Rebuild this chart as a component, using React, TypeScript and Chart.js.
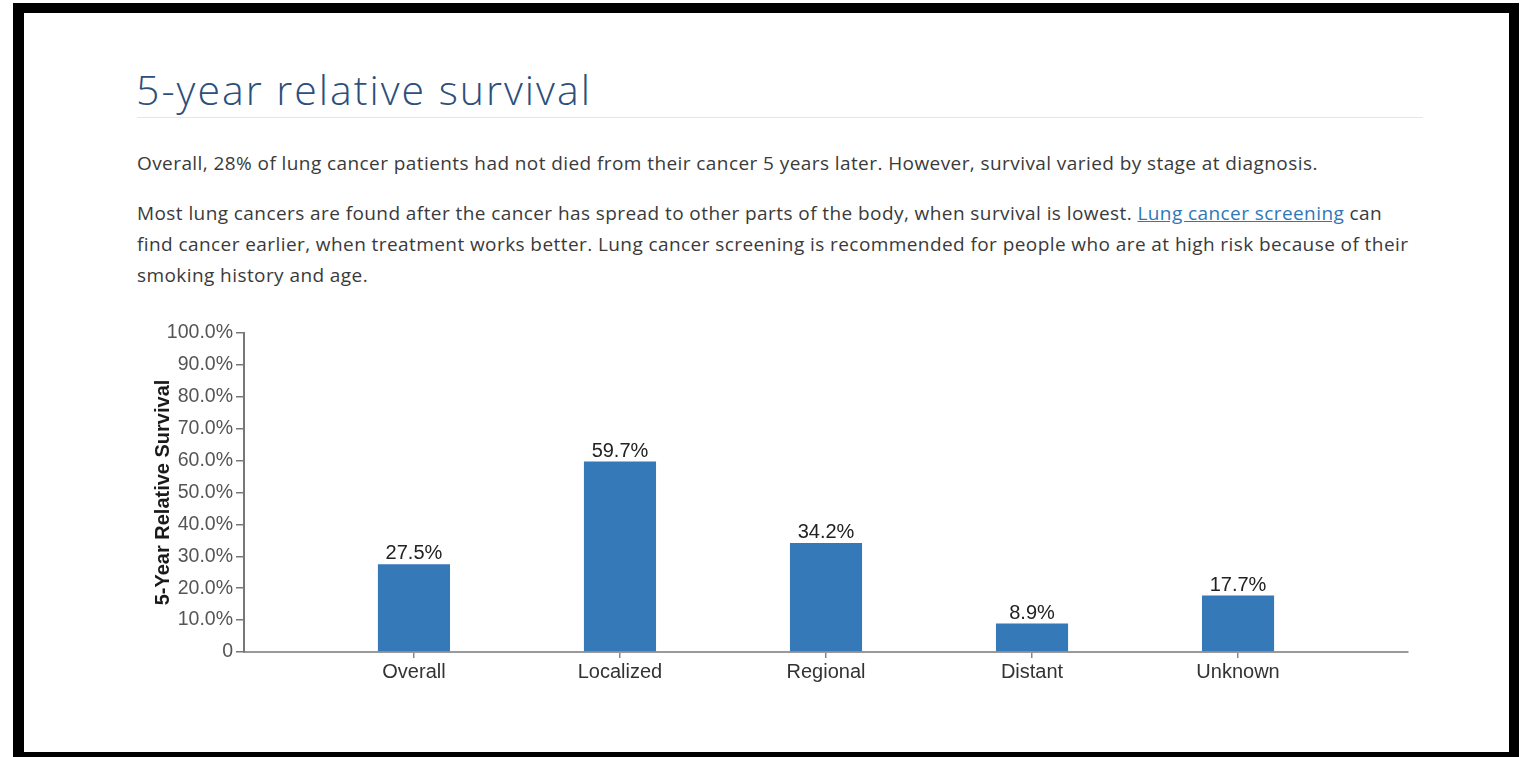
import React, { useEffect, useRef } from 'react';
import { Chart, registerables } from 'chart.js';

Chart.register(...registerables);

const categories = ['Overall', 'Localized', 'Regional', 'Distant', 'Unknown'];
const survival = [27.5, 59.7, 34.2, 8.9, 17.7];
const valueLabels = ['27.5%', '59.7%', '34.2%', '8.9%', '17.7%'];
const yTickValues = [0, 10, 20, 30, 40, 50, 60, 70, 80, 90, 100];
const yTickLabels = ['0', '10.0%', '20.0%', '30.0%', '40.0%', '50.0%', '60.0%', '70.0%', '80.0%', '90.0%', '100.0%'];

const CHART_FONT = '"Liberation Sans", Arial, Helvetica, sans-serif';

const valueLabelPlugin = {
  id: 'valueLabels',
  afterDatasetsDraw(chart: any) {
    const ctx = chart.ctx;
    const meta = chart.getDatasetMeta(0);
    ctx.save();
    ctx.font = `20px ${CHART_FONT}`;
    ctx.fillStyle = '#222';
    ctx.textAlign = 'center';
    ctx.textBaseline = 'alphabetic';
    meta.data.forEach((bar: any, i: number) => {
      ctx.fillText(valueLabels[i], bar.x, bar.y - 5);
    });
    ctx.restore();
  },
};

function SurvivalChart() {
  const ref = useRef<HTMLCanvasElement>(null);
  useEffect(() => {
    const chart = new Chart(ref.current as HTMLCanvasElement, {
      type: 'bar',
      data: {
        datasets: [
          {
            data: survival.map((v, i) => ({ x: i, y: v })),
            backgroundColor: '#3579b8',
            borderWidth: 0,
            categoryPercentage: 1,
            barPercentage: 0.35,
          },
        ],
      },
      options: {
        animation: false,
        responsive: false,
        layout: { padding: { top: 23, right: 22, left: 0, bottom: 0 } },
        plugins: {
          legend: { display: false },
          tooltip: { enabled: false },
        },
        scales: {
          x: {
            type: 'linear',
            offset: false,
            min: -0.825,
            max: 4.825,
            afterBuildTicks: (scale: any) => {
              scale.ticks = categories.map((_, i) => ({ value: i }));
            },
            afterFit: (scale: any) => {
              scale.height = 58;
            },
            ticks: {
              callback: (v: any) => categories[v] ?? '',
              font: { size: 20, family: CHART_FONT },
              color: '#333',
              padding: 2,
              maxRotation: 0,
              autoSkip: false,
            },
            grid: {
              offset: false,
              drawOnChartArea: false,
              drawTicks: true,
              tickLength: 6,
              color: '#888',
              lineWidth: 1.5,
            },
            border: { display: true, color: '#999', width: 2 },
          },
          y: {
            min: 0,
            max: 100,
            afterBuildTicks: (scale: any) => {
              scale.ticks = yTickValues.map((v) => ({ value: v }));
            },
            afterFit: (scale: any) => {
              scale.width = 124;
            },
            ticks: {
              callback: (v: any) => yTickLabels[yTickValues.indexOf(v)] ?? '',
              font: { size: 19.5, family: CHART_FONT },
              color: '#555',
              padding: 3,
              autoSkip: false,
            },
            grid: {
              drawOnChartArea: false,
              drawTicks: true,
              tickLength: 8,
              color: '#777',
              lineWidth: 1.5,
            },
            border: { display: true, color: '#777', width: 2 },
            title: {
              display: true,
              text: '5-Year Relative Survival',
              font: { size: 20, weight: 'bold', family: CHART_FONT },
              color: '#1a1a1a',
              padding: { top: 31, bottom: 0 },
            },
          },
        },
      },
      plugins: [valueLabelPlugin],
    } as any);
    return () => chart.destroy();
  }, []);
  return (
    <canvas
      ref={ref}
      width={1310}
      height={400}
      style={{ position: 'absolute', left: 120, top: 310, width: 1310, height: 400 }}
    />
  );
}

const bodyText: React.CSSProperties = {
  position: 'absolute',
  left: 137,
  fontFamily: '"Open Sans", "Noto Sans", sans-serif',
  fontSize: 19,
  letterSpacing: '0.42px',
  lineHeight: '31px',
  color: '#3a3a3a',
  whiteSpace: 'nowrap',
};

export default function App() {
  return (
    <div
      style={{
        position: 'absolute',
        left: 0,
        top: 0,
        width: 1522,
        height: 757,
        background: '#fff',
        overflow: 'hidden',
      }}
    >
      <div
        style={{
          position: 'absolute',
          left: 13,
          top: 3,
          width: 1506,
          height: 759,
          boxSizing: 'border-box',
          borderStyle: 'solid',
          borderColor: '#000',
          borderWidth: '10px 10px 10px 11px',
        }}
      />
      <div
        style={{
          position: 'absolute',
          left: 136,
          top: 69,
          fontFamily: '"Open Sans", Lato, sans-serif',
          fontWeight: 300,
          fontSize: 41,
          letterSpacing: '2px',
          lineHeight: '40px',
          color: '#2c4f7c',
          whiteSpace: 'nowrap',
        }}
      >
        5-year relative survival
      </div>
      <div
        style={{
          position: 'absolute',
          left: 137,
          top: 117,
          width: 1286,
          height: 1,
          background: '#e6e6e6',
        }}
      />
      <div style={{ ...bodyText, top: 148 }}>
        Overall, 28% of lung cancer patients had not died from their cancer 5 years later. However, survival varied by stage at diagnosis.
      </div>
      <div style={{ ...bodyText, top: 198 }}>
        Most lung cancers are found after the cancer has spread to other parts of the body, when survival is lowest.{' '}
        <span style={{ color: '#2f77b5', textDecoration: 'underline' }}>Lung cancer screening</span> can
      </div>
      <div style={{ ...bodyText, top: 229 }}>
        find cancer earlier, when treatment works better. Lung cancer screening is recommended for people who are at high risk because of their
      </div>
      <div style={{ ...bodyText, top: 260 }}>smoking history and age.</div>
      <SurvivalChart />
    </div>
  );
}
